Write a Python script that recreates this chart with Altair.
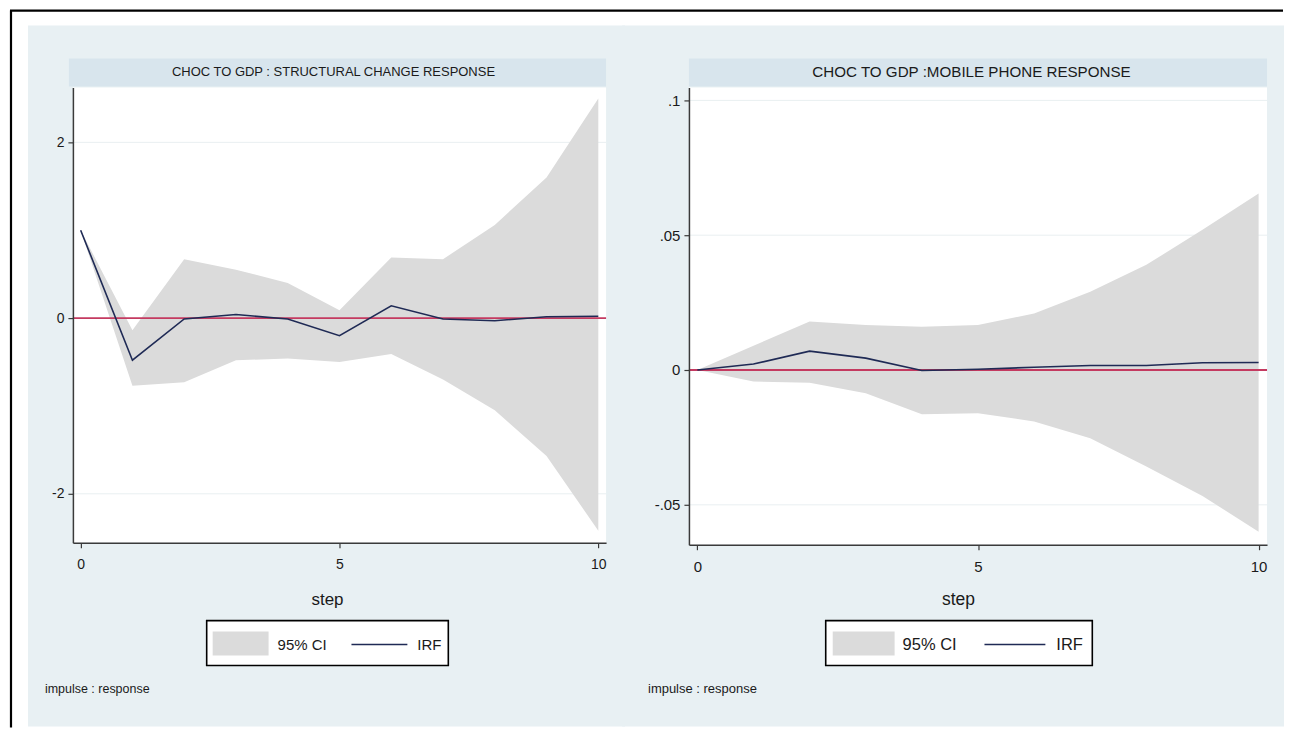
import altair as alt
import pandas as pd

# ---------------- data ----------------
steps = [0, 1, 2, 3, 4, 5, 6, 7, 8, 9, 10]

# Panel 1: CHOC TO GDP : STRUCTURAL CHANGE RESPONSE
sc_irf = [1.0, -0.48, -0.01, 0.04, -0.01, -0.20, 0.14, -0.01, -0.03, 0.015, 0.02]
sc_lo = [1.0, -0.77, -0.73, -0.48, -0.46, -0.50, -0.41, -0.70, -1.05, -1.57, -2.42]
sc_hi = [1.0, -0.14, 0.67, 0.55, 0.40, 0.09, 0.69, 0.67, 1.06, 1.60, 2.50]

# Panel 2: CHOC TO GDP : MOBILE PHONE RESPONSE
mp_irf = [0.0, 0.0022, 0.0070, 0.0044, -0.0002, 0.0003, 0.0010, 0.0017, 0.0017, 0.0027, 0.0028]
mp_lo = [0.0, -0.0043, -0.0047, -0.0086, -0.0164, -0.0160, -0.0191, -0.0253, -0.0358, -0.0467, -0.0600]
mp_hi = [0.0, 0.0090, 0.0180, 0.0167, 0.0160, 0.0167, 0.0210, 0.0290, 0.0390, 0.0520, 0.0655]

sc_yticks = [-2, 0, 2]
mp_yticks = [-0.05, 0, 0.05, 0.1]
xticks = [0, 5, 10]

titles = ["CHOC TO GDP :  STRUCTURAL  CHANGE RESPONSE", "CHOC  TO  GDP :MOBILE  PHONE  RESPONSE"]
xlabel = "step"
legend_labels = ["95% CI", "IRF"]
note = "impulse : response"

FONT = "Liberation Sans"
PANEL_BG = "#e8f0f3"
STRIP_BG = "#d8e5ed"
CI_FILL = "#dbdbdb"
IRF_COL = "#1f2a55"
ZERO_COL = "#c43a60"
AXIS_COL = "#3a3a3a"
TEXT_COL = "#1a1a1a"

one = alt.Data(values=[{"k": 1}])


def px_rect(x, x2, y, y2, **kw):
    return alt.Chart(one).mark_rect(**kw).encode(
        x=alt.value(x), x2=alt.value(x2), y=alt.value(y), y2=alt.value(y2)
    )


def px_rule(x, x2, y, y2, **kw):
    return alt.Chart(one).mark_rule(**kw).encode(
        x=alt.value(x), x2=alt.value(x2), y=alt.value(y), y2=alt.value(y2)
    )


def px_text(txt, x, y, size, align="center", **kw):
    return alt.Chart(one).mark_text(
        font=FONT, fontSize=size, align=align, baseline="middle", color=TEXT_COL, **kw
    ).encode(x=alt.value(x), y=alt.value(y), text=alt.value(txt))


def panel(irf, lo, hi, yticks, ydom, W, H, title, title_x, geo, fs, label_expr, frame=False):
    df = pd.DataFrame({"step": steps, "irf": irf, "lo": lo, "hi": hi})
    xsc = alt.Scale(domain=[-0.15, 10.15], nice=False, zero=False)
    ysc = alt.Scale(domain=ydom, nice=False, zero=False)

    xaxis = alt.Axis(values=xticks, title=None, grid=False, zindex=1,
                     domainColor=AXIS_COL, domainWidth=1.5, tickColor=AXIS_COL,
                     tickWidth=1.2, tickSize=5, labelFont=FONT, labelFontSize=fs["tick"],
                     labelColor=TEXT_COL, labelPadding=10, labelExpr="datum.value + ''")
    yaxis = alt.Axis(values=yticks, title=None, grid=False, zindex=1,
                     domainColor=AXIS_COL, domainWidth=1.5, tickColor=AXIS_COL,
                     tickWidth=1.2, tickSize=5, labelFont=FONT, labelFontSize=fs["tick"],
                     labelColor=TEXT_COL, labelPadding=4, labelExpr=label_expr)
    X = alt.X("step:Q", scale=xsc, axis=xaxis)

    layers = []
    if frame:
        layers.append(px_rule(-63, 1212, -77, -77, color="black", strokeWidth=2.2))
        layers.append(px_rule(-62, -62, -77, 641, color="black", strokeWidth=2.2))
    bx0, bx1 = geo["bg"]
    layers += [
        px_rect(bx0, bx1, -62, 640, color=PANEL_BG),
        px_rect(geo["strip"][0], geo["strip"][1], -29, -1, color=STRIP_BG),
        px_rect(0, W, 0, H, color="white"),
        px_text(title, title_x, -15, fs["title"]),
    ]

    grid = alt.Chart(pd.DataFrame({"g": [v for v in yticks if v != 0]})).mark_rule(
        color="#e9eff1", strokeWidth=1
    ).encode(y=alt.Y("g:Q", scale=ysc, axis=yaxis), x=alt.value(0), x2=alt.value(W))

    base = alt.Chart(df)
    area = base.mark_area(color=CI_FILL, opacity=1).encode(
        x=X, y=alt.Y("hi:Q", scale=ysc, axis=yaxis), y2="lo:Q",
    )
    zero = alt.Chart(pd.DataFrame({"z": [0]})).mark_rule(
        color=ZERO_COL, strokeWidth=1.8
    ).encode(y=alt.Y("z:Q", scale=ysc, axis=yaxis), x=alt.value(0), x2=alt.value(W))
    line = base.mark_line(color=IRF_COL, strokeWidth=1.6).encode(
        x=X, y=alt.Y("irf:Q", scale=ysc, axis=yaxis)
    )
    layers += [grid, area, zero, line]

    lg = geo["legend"]
    ly = 558
    layers += [
        px_text(xlabel, geo["step_x"], 513, fs["step"]),
        px_rect(lg["box"][0], lg["box"][1], 534, 579, fill="white", stroke="black", strokeWidth=1.6),
        px_rect(lg["sw"][0], lg["sw"][1], 545, 569, color=CI_FILL),
        px_text(legend_labels[0], lg["t1"], ly, fs["legend"], align="left"),
        px_rule(lg["ln"][0], lg["ln"][1], ly, ly, color=IRF_COL, strokeWidth=1.5),
        px_text(legend_labels[1], lg["t2"], ly, fs["legend"], align="left"),
        px_text(note, geo["note_x"], 603, fs["note"], align="left"),
    ]
    return alt.layer(*layers).properties(width=W, height=H)


label_sc = "datum.value + ''"
label_mp = "datum.value == 0 ? '0' : replace(datum.value + '', '0.', '.')"

left = panel(
    sc_irf, sc_lo, sc_hi, sc_yticks, [-2.557, 2.625], 534, 456, titles[0], 261,
    geo={"bg": (-45, 553), "strip": (-4, 534), "step_x": 255, "note_x": -28,
         "legend": {"box": (134, 376), "sw": (140, 196), "t1": 205, "ln": (279, 335), "t2": 345}},
    fs={"tick": 14, "title": 13, "step": 17, "legend": 15, "note": 12.5},
    label_expr=label_sc, frame=True,
)
right = panel(
    mp_irf, mp_lo, mp_hi, mp_yticks, [-0.0648, 0.1048], 579, 458, titles[1], 283,
    geo={"bg": (-67, 596), "strip": (0, 579), "step_x": 270, "note_x": -41,
         "legend": {"box": (137, 404), "sw": (144, 206), "t1": 214, "ln": (296, 357), "t2": 368}},
    fs={"tick": 15, "title": 15.2, "step": 17.5, "legend": 16.5, "note": 13},
    label_expr=label_mp,
)

chart = alt.hconcat(left, right, spacing=83, bounds="flush").properties(
    padding={"left": 0, "top": 0, "right": 0, "bottom": 0}
).configure_view(stroke=None, fill=None).configure(background="white")

chart.save("out.html", embed_options={"renderer": "svg", "actions": False})
